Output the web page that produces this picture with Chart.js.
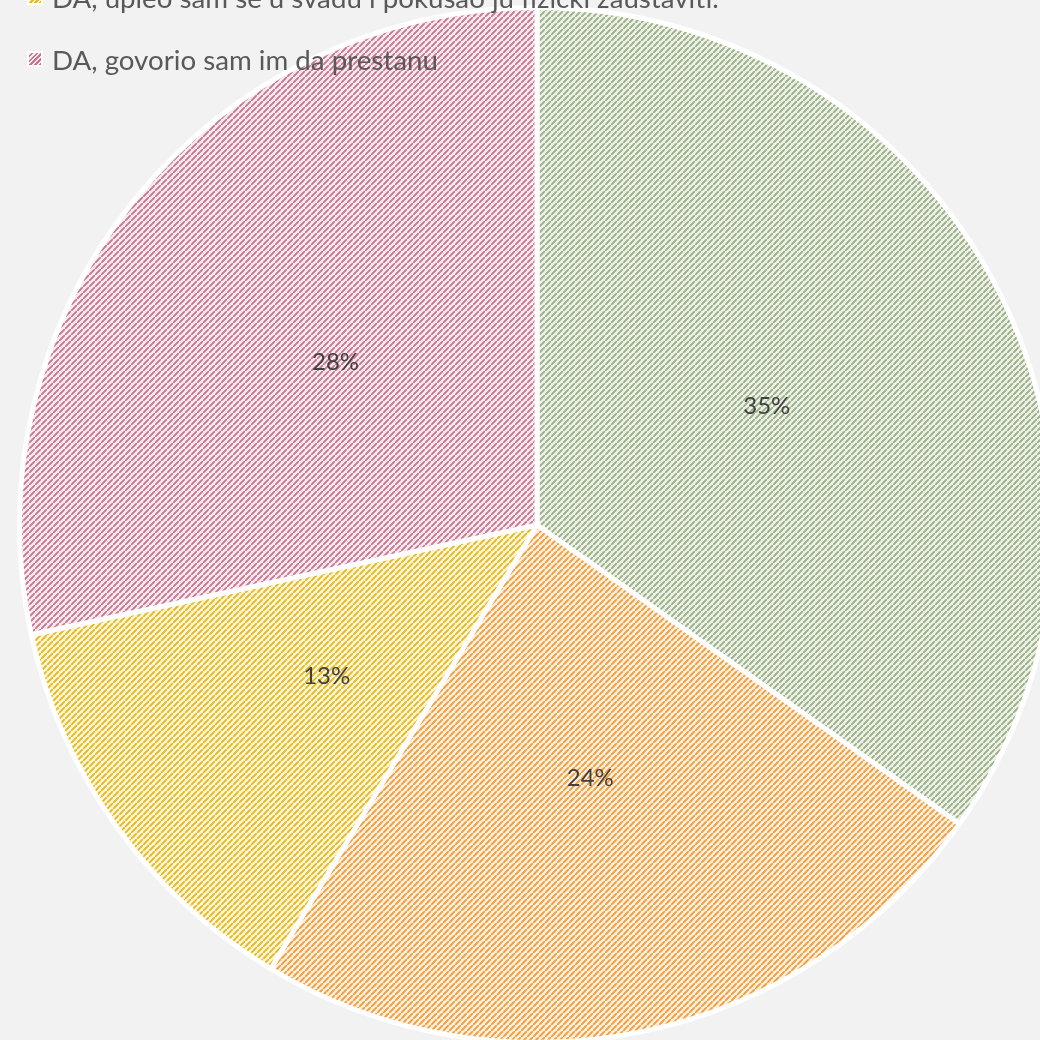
<!DOCTYPE html>
<html lang="hr">
<head>
  <meta charset="UTF-8">
  <title>Pie chart</title>
  <script src="https://cdn.jsdelivr.net/npm/chart.js"></script>
  <style>
    html, body { margin: 0; padding: 0; background: #F2F2F2; overflow: hidden; width: 1040px; height: 1040px; }
    #wrap { position: absolute; left: -13px; top: -25px; width: 1100px; height: 1100px; }
    #legend { position: absolute; left: 27px; top: -158px; z-index: 2; font-family: "Gill Sans", "Gill Sans MT", Lato, sans-serif; font-size: 27.7px; color: #595959; }
    #legend .item { height: 62px; display: flex; align-items: center; white-space: nowrap; }
    #legend .box { width: 12px; height: 12px; border: 2px solid #fff; margin-right: 9px; flex: none; }
  </style>
</head>
<body>
  <div id="wrap"><canvas id="pie" width="1100" height="1100"></canvas></div>
  <div id="legend"></div>

  <script>
    // slice labels (first two sit above the visible area in the picture)
    const labels = [
      'NE',
      'DA, rekao sam nekome odraslom',
      'DA, upleo sam se u svađu i pokušao ju fizički zaustaviti.',
      'DA, govorio sam im da prestanu'
    ];
    const values = [34.8, 23.8, 13.0, 28.4]; // percent
    const lineColors = ['#9AAF85', '#F39C35', '#E7B81C', '#C97592'];
    const fillColors = ['#EDF1E8', '#FEF0E0', '#FDF6D8', '#F8EAEF'];

    // hatched fill like the office "upward diagonal" pattern
    function makeHatch(bg, fg) {
      const p = 6;
      const c = document.createElement('canvas');
      c.width = p; c.height = p;
      const g = c.getContext('2d');
      g.fillStyle = bg;
      g.fillRect(0, 0, p, p);
      g.strokeStyle = fg;
      g.lineWidth = 1.9;
      g.beginPath();
      g.moveTo(-1, p + 1); g.lineTo(p + 1, -1);
      g.moveTo(-2, 1); g.lineTo(1, -2);
      g.moveTo(p - 1, p + 2); g.lineTo(p + 2, p - 1);
      g.stroke();
      return g.createPattern(c, 'repeat');
    }
    const patterns = lineColors.map((fg, i) => makeHatch(fillColors[i], fg));

    // percentage labels in the middle of each slice
    const sliceLabels = {
      id: 'sliceLabels',
      afterDatasetsDraw(chart) {
        const ctx = chart.ctx;
        const meta = chart.getDatasetMeta(0);
        ctx.save();
        ctx.font = '24px "Gill Sans", "Gill Sans MT", Lato, sans-serif';
        ctx.fillStyle = '#404040';
        ctx.textAlign = 'center';
        ctx.textBaseline = 'middle';
        meta.data.forEach((arc, i) => {
          const pos = arc.tooltipPosition();
          ctx.fillText(Math.round(values[i]) + '%', pos.x, pos.y);
        });
        ctx.restore();
      }
    };

    new Chart(document.getElementById('pie'), {
      type: 'pie',
      data: {
        labels: labels,
        datasets: [{
          data: values,
          backgroundColor: patterns,
          borderColor: '#FFFFFF',
          borderWidth: 5
        }]
      },
      options: {
        responsive: false,
        animation: false,
        layout: { padding: 30 },
        plugins: {
          legend: { display: false },
          tooltip: { enabled: false }
        }
      },
      plugins: [sliceLabels]
    });

    // html legend
    const legend = document.getElementById('legend');
    labels.forEach((text, i) => {
      const item = document.createElement('div');
      item.className = 'item';
      const box = document.createElement('span');
      box.className = 'box';
      box.style.background = `repeating-linear-gradient(-45deg, ${lineColors[i]} 0 1.5px, ${fillColors[i]} 1.5px 3.5px)`;
      const span = document.createElement('span');
      span.textContent = text;
      item.appendChild(box);
      item.appendChild(span);
      legend.appendChild(item);
    });
  </script>
</body>
</html>
